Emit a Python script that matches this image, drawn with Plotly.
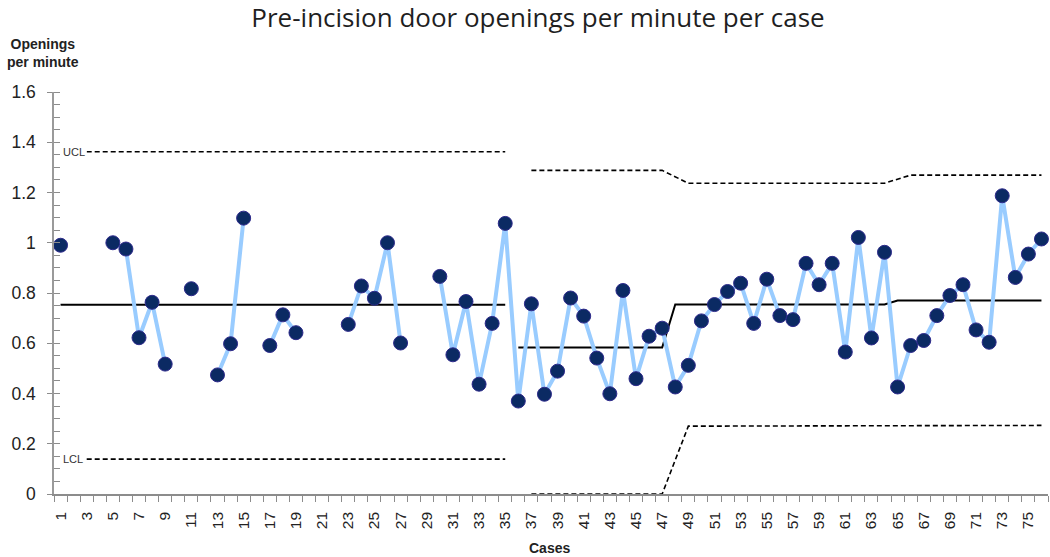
import plotly.graph_objects as go

cases = list(range(1, 77))
openings = [
    0.990, None, None, None, 1.000, 0.975, 0.622, 0.763, 0.517, None,
    0.817, None, 0.474, 0.598, 1.098, None, 0.591, 0.713, 0.642, None,
    None, None, 0.675, 0.828, 0.779, 1.000, 0.601, None, None, 0.866,
    0.554, 0.766, 0.437, 0.679, 1.077, 0.370, 0.757, 0.397, 0.489, 0.780,
    0.708, 0.541, 0.399, 0.810, 0.459, 0.628, 0.660, 0.426, 0.512, 0.689,
    0.754, 0.806, 0.839, 0.679, 0.855, 0.710, 0.694, 0.918, 0.833, 0.918,
    0.565, 1.021, 0.621, 0.962, 0.426, 0.591, 0.611, 0.710, 0.790, 0.833,
    0.653, 0.604, 1.187, 0.862, 0.955, 1.015,
]

# phases: first case of each phase, centre line and control limits
phase_start = [1, 36, 48, 65]
phase_end = [35, 47, 64, 76]
limit_start = [3, 37, 49, 66]
cl_vals = [0.753, 0.583, 0.754, 0.770]
ucl_vals = [1.362, 1.288, 1.237, 1.269]
lcl_vals = [0.139, 0.000, 0.270, 0.273]

x_tick_labels = [str(c) for c in range(1, 77, 2)]
y_tick_vals = [0, 0.2, 0.4, 0.6, 0.8, 1.0, 1.2, 1.4, 1.6]
y_tick_text = ["0", "0.2", "0.4", "0.6", "0.8", "1", "1.2", "1.4", "1.6"]


def build(vals, starts, phases):
    xs, ys = [], []
    for p in phases:
        for c in range(starts[p], phase_end[p] + 1):
            xs.append(c)
            ys.append(vals[p])
        if p != phases[-1]:
            nxt = starts[p + 1]
            for c in range(phase_end[p] + 1, nxt):
                xs.append(c)
                ys.append(None)
    return xs, ys


fig = go.Figure()

dash = "5px,3px"
for vals, starts, style in [
    (cl_vals, phase_start, dict(color="black", width=2)),
    (ucl_vals, limit_start, dict(color="black", width=1.6, dash=dash)),
    (lcl_vals, limit_start, dict(color="black", width=1.6, dash=dash)),
]:
    for group in ([0], [1, 2, 3]):
        xs, ys = build(vals, starts, group)
        fig.add_trace(go.Scatter(x=xs, y=ys, mode="lines", line=style,
                                 connectgaps=True, hoverinfo="skip",
                                 showlegend=False, cliponaxis=False))

fig.add_trace(go.Scatter(
    x=cases, y=openings, mode="lines+markers",
    line=dict(color="#99CCFF", width=4),
    marker=dict(color="#0B2A63", size=14, line=dict(color="#2E2A8C", width=1)),
    connectgaps=False, showlegend=False, cliponaxis=False,
))

fig.add_annotation(x=2.05, y=ucl_vals[0], text="UCL", showarrow=False,
                   font=dict(family="Liberation Sans", size=11, color="#333333"),
                   xanchor="center", yanchor="middle", bgcolor="white", borderpad=1)
fig.add_annotation(x=1.95, y=lcl_vals[0], text="LCL", showarrow=False,
                   font=dict(family="Liberation Sans", size=11, color="#333333"),
                   xanchor="center", yanchor="middle", bgcolor="white", borderpad=1)

fig.add_annotation(x=43, y=53, xref="paper", yref="paper",
                   text="<b>Openings<br>per minute</b>", showarrow=False,
                   xanchor="center", yanchor="middle", align="center",
                   font=dict(family="Liberation Sans", size=14, color="#222222"))
fig.add_annotation(x=549, y=548, xref="paper", yref="paper",
                   text="<b>Cases</b>", showarrow=False,
                   xanchor="center", yanchor="middle",
                   font=dict(family="Liberation Sans", size=14, color="#222222"))

W, H = 1050, 557
L, R, T, B = 54, 2, 92, 63
# convert pixel positions of the two axis-title annotations to paper coords
for ann in fig.layout.annotations[-2:]:
    ann.x = (ann.x - L) / (W - L - R)
    ann.y = 1 - (ann.y - T) / (H - T - B)

fig.update_layout(
    width=W, height=H,
    margin=dict(l=L, r=R, t=T, b=B, autoexpand=False),
    paper_bgcolor="white", plot_bgcolor="white",
    title=dict(text="Pre-incision door openings per minute per case",
               x=538 / W, xanchor="center", y=1 - 18 / H, yanchor="middle",
               font=dict(family="Open Sans", size=26, color="#1f1f1f")),
    xaxis=dict(
        range=[0.5, 76.5], showgrid=False, zeroline=False, automargin=False,
        showline=True, linecolor="#8C8C8C", linewidth=1.5,
        tickmode="array", tickvals=list(range(1, 77, 2)), ticktext=x_tick_labels,
        ticks="", tickangle=-90, ticklabelstandoff=10,
        tickfont=dict(family="Liberation Sans", size=15.5, color="#222222"),
        minor=dict(tickmode="array", tickvals=[c + 0.5 for c in range(0, 77)],
                   ticks="outside", ticklen=6, tickcolor="#8C8C8C", tickwidth=1),
    ),
    yaxis=dict(
        range=[0, 1.6], showgrid=False, zeroline=False, automargin=False,
        showline=True, linecolor="#9A9A9A", linewidth=1.5,
        tickmode="array", tickvals=y_tick_vals, ticktext=y_tick_text,
        ticks="outside", ticklen=5, tickcolor="#8C8C8C", tickwidth=1,
        ticklabelstandoff=8,
        tickfont=dict(family="Liberation Sans", size=17.5, color="#222222"),
        minor=dict(dtick=0.05, ticks="inside", ticklen=6,
                   tickcolor="#8C8C8C", tickwidth=1),
    ),
)

fig.write_html("out.html",
               config={"displayModeBar": False},
               post_script="document.body.style.margin='0';"
                           "document.body.style.overflow='hidden';")
